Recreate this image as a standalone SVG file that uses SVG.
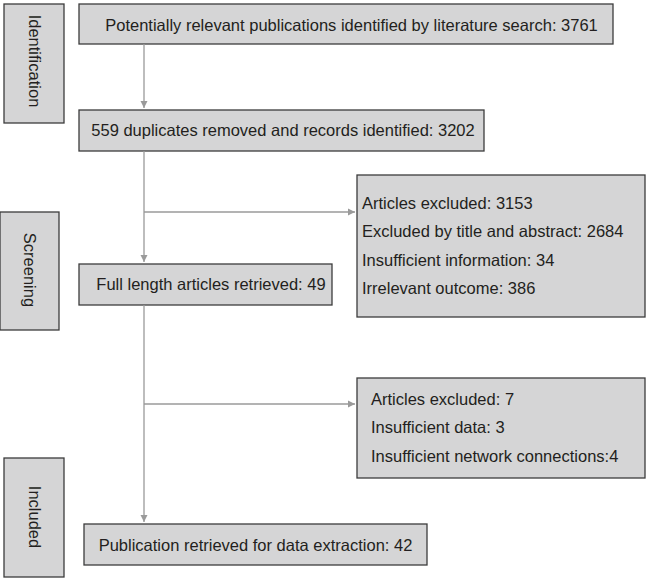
<svg xmlns="http://www.w3.org/2000/svg" width="650" height="582" viewBox="0 0 650 582">
<defs>
<marker id="ah" markerWidth="8" markerHeight="8" refX="7" refY="4" orient="auto" markerUnits="userSpaceOnUse">
<path d="M0,0.5 L7,4 L0,7.5 Z" fill="#9a9a9a"/>
</marker>
<style>
.box{fill:#d5d5d6;stroke:#3c3c3c;stroke-width:1.3}
.t{font-family:"Liberation Sans",Arial,sans-serif;font-size:16.5px;fill:#231f20}
.c{stroke:#9a9a9a;stroke-width:1.3;fill:none}
</style>
</defs>
<rect width="650" height="582" fill="#ffffff"/>
<g id="stage-identification">
<rect class="box" x="4" y="4" width="60" height="119"/>
<text class="t" transform="translate(28.5,61) rotate(90)" text-anchor="middle">Identification</text>
</g>
<g id="stage-screening">
<rect class="box" x="0" y="212" width="59" height="118"/>
<text class="t" transform="translate(23.5,270) rotate(90)" text-anchor="middle">Screening</text>
</g>
<g id="stage-included">
<rect class="box" x="4" y="458" width="60" height="119"/>
<text class="t" transform="translate(28.5,517) rotate(90)" text-anchor="middle">Included</text>
</g>
<g id="n1">
<rect class="box" x="79" y="4" width="534" height="40"/>
<text class="t" x="351.5" y="31" text-anchor="middle">Potentially relevant publications identified by literature search: 3761</text>
</g>
<g id="n2">
<rect class="box" x="79" y="110" width="405" height="41"/>
<text class="t" x="283" y="136" text-anchor="middle">559 duplicates removed and records identified: 3202</text>
</g>
<g id="n3">
<rect class="box" x="79" y="264" width="253" height="41"/>
<text class="t" x="211" y="290" text-anchor="middle">Full length articles retrieved: 49</text>
</g>
<g id="n4">
<rect class="box" x="357" y="175" width="288" height="142"/>
<text class="t" x="362" y="209">Articles excluded: 3153</text>
<text class="t" x="362" y="237">Excluded by title and abstract: 2684</text>
<text class="t" x="362" y="266">Insufficient information: 34</text>
<text class="t" x="362" y="294">Irrelevant outcome: 386</text>
</g>
<g id="n5">
<rect class="box" x="357" y="378" width="288" height="100"/>
<text class="t" x="371" y="405">Articles excluded: 7</text>
<text class="t" x="371" y="433">Insufficient data: 3</text>
<text class="t" x="371" y="462">Insufficient network connections:4</text>
</g>
<g id="n6">
<rect class="box" x="84" y="524" width="343" height="41"/>
<text class="t" x="255.5" y="551" text-anchor="middle">Publication retrieved for data extraction: 42</text>
</g>
<g id="connectors">
<line class="c" x1="144" y1="44" x2="144" y2="108" marker-end="url(#ah)"/>
<line class="c" x1="144" y1="151" x2="144" y2="262" marker-end="url(#ah)"/>
<line class="c" x1="144" y1="212" x2="355" y2="212" marker-end="url(#ah)"/>
<line class="c" x1="144" y1="305" x2="144" y2="522" marker-end="url(#ah)"/>
<line class="c" x1="144" y1="404" x2="355" y2="404" marker-end="url(#ah)"/>
</g>
</svg>
